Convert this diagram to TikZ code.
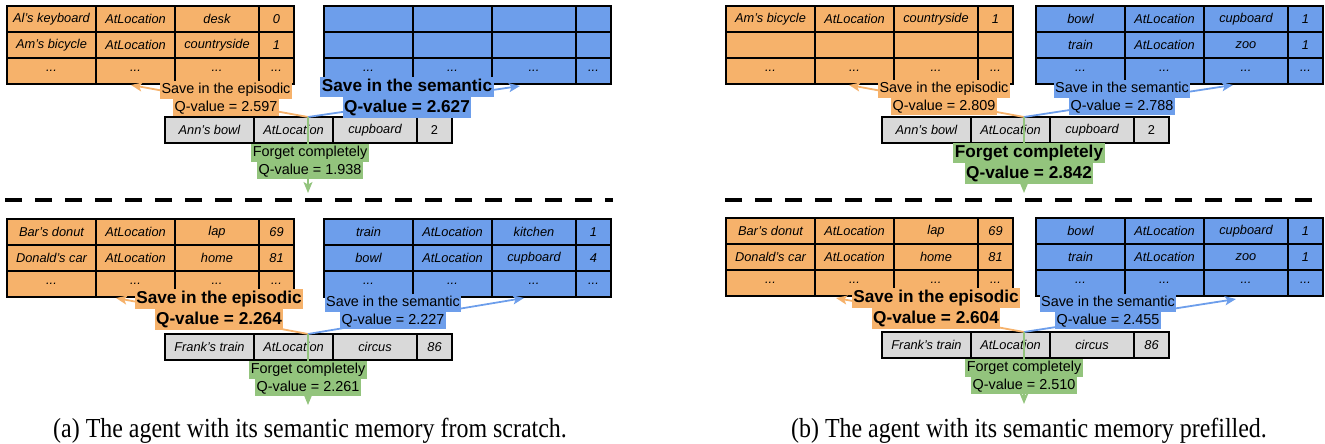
\documentclass[tikz,border=0pt]{standalone}
\usepackage{fontspec}
\setmainfont{Liberation Serif}
\newfontfamily\arialfont{Liberation Sans}
\newfontfamily\capfont[FakeStretch=0.87]{Liberation Serif}
\usetikzlibrary{positioning,arrows.meta}
\definecolor{epi}{HTML}{F6B26B}
\definecolor{sem}{HTML}{6D9EEB}
\definecolor{fgt}{HTML}{93C47D}
\definecolor{obs}{HTML}{D9D9D9}

\begin{document}
\begin{tikzpicture}[x=1pt,y=-1pt,
  cell/.style={draw, line width=1.6pt, outer sep=0pt, inner sep=0pt, minimum height=26pt,
    font=\arialfont\itshape\fontsize{12.8}{14}\selectfont},
  wa/.style={minimum width=89pt}, wb/.style={minimum width=79pt},
  wc/.style={minimum width=84pt}, wd/.style={minimum width=35pt},
  tblframe/.style={line width=2.6pt},
  lab/.style={inner xsep=1.5pt, inner ysep=0pt, outer sep=0pt, minimum height=17.5pt,
    text height=10.5pt, text depth=3pt, font=\arialfont\fontsize{14.4}{17}\selectfont},
  blab/.style={lab, minimum height=20.5pt, text height=12.5pt, text depth=3.5pt,
    font=\arialfont\bfseries\fontsize{17.2}{20}\selectfont},
  mv/.style={line width=1.8pt, -{Stealth[length=11pt,width=9pt,inset=2.5pt]}},
  sepline/.style={line width=4pt, dash pattern=on 17pt off 13pt},
  captxt/.style={anchor=base, inner sep=0pt, font=\capfont\fontsize{27.5}{30}\selectfont}]
\useasboundingbox (0,0) rectangle (1325,444);

\def\memrow#1#2#3#4#5#6#7{%
  \node[cell,wa,fill=#3,anchor=north west] (#1a) at (#2) {#4};
  \node[cell,wb,fill=#3,right=0pt of #1a] (#1b) {#5};
  \node[cell,wc,fill=#3,right=0pt of #1b] (#1c) {#6};
  \node[cell,wd,fill=#3,right=0pt of #1c] (#1d) {#7};
}

%%% (a) top
\memrow{atE1}{7,6}{epi}{Al’s keyboard}{AtLocation}{desk}{0}
\memrow{atE2}{atE1a.south west}{epi}{Am’s bicycle}{AtLocation}{countryside}{1}
\memrow{atE3}{atE2a.south west}{epi}{...}{...}{...}{...}
\draw[tblframe] (atE1a.north west) rectangle (atE3d.south east);
\memrow{atS1}{324,6}{sem}{}{}{}{}
\memrow{atS2}{atS1a.south west}{sem}{}{}{}{}
\memrow{atS3}{atS2a.south west}{sem}{...}{...}{...}{...}
\draw[tblframe] (atS1a.north west) rectangle (atS3d.south east);
\memrow{atR}{165,117}{obs}{Ann’s bowl}{AtLocation}{cupboard}{\upshape 2}
\draw[tblframe] (atRa.north west) rectangle (atRd.south east);

\coordinate (atJ) at (308,117);
\coordinate (atEt) at (131,85);
\coordinate (atSt) at (520,86);
\coordinate (atFt) at (308,193);
\draw[mv,epi] (atJ) -- (atEt);
\draw[mv,sem] (atJ) -- (atSt);
\draw[mv,fgt,line width=1.3pt] (atJ) -- (atFt);

\node[lab,fill=epi] (atL1) at (226,90) {Save in the episodic};
\node[lab,fill=epi,below=0pt of atL1] (atL2) {Q-value = 2.597};
\node[blab,fill=sem] (atM1) at (407,87) {Save in the semantic};
\node[blab,fill=sem,below=0pt of atM1] (atM2) {Q-value = 2.627};
\node[lab,fill=fgt] (atN1) at (310,153) {Forget completely};
\node[lab,fill=fgt,below=0pt of atN1] (atN2) {Q-value = 1.938};

\coordinate (sepA1) at (5,200);
\coordinate (sepA2) at (613,200);
\draw[sepline] (sepA1) -- (sepA2);

%%% (a) bottom
\memrow{abE1}{7,219}{epi}{Bar’s donut}{AtLocation}{lap}{69}
\memrow{abE2}{abE1a.south west}{epi}{Donald’s car}{AtLocation}{home}{81}
\memrow{abE3}{abE2a.south west}{epi}{...}{...}{...}{...}
\draw[tblframe] (abE1a.north west) rectangle (abE3d.south east);
\memrow{abS1}{324,219}{sem}{train}{AtLocation}{kitchen}{1}
\memrow{abS2}{abS1a.south west}{sem}{bowl}{AtLocation}{cupboard}{4}
\memrow{abS3}{abS2a.south west}{sem}{...}{...}{...}{...}
\draw[tblframe] (abS1a.north west) rectangle (abS3d.south east);
\memrow{abR}{165,334}{obs}{Frank’s train}{AtLocation}{circus}{86}
\draw[tblframe] (abRa.north west) rectangle (abRd.south east);

\coordinate (abJ) at (308,334);
\coordinate (abEt) at (116,298);
\coordinate (abSt) at (524,298);
\coordinate (abFt) at (308,405);
\draw[mv,epi] (abJ) -- (abEt);
\draw[mv,sem] (abJ) -- (abSt);
\draw[mv,fgt,line width=1.3pt] (abJ) -- (abFt);

\node[blab,fill=epi] (abL1) at (219,299) {Save in the episodic};
\node[blab,fill=epi,below=0pt of abL1] (abL2) {Q-value = 2.264};
\node[lab,fill=sem] (abM1) at (393,303) {Save in the semantic};
\node[lab,fill=sem,below=0pt of abM1] (abM2) {Q-value = 2.227};
\node[lab,fill=fgt] (abN1) at (308,370) {Forget completely};
\node[lab,fill=fgt,below=0pt of abN1] (abN2) {Q-value = 2.261};

%%% (b) top
\memrow{btE1}{726,6}{epi}{Am’s bicycle}{AtLocation}{countryside}{1}
\memrow{btE2}{btE1a.south west}{epi}{}{}{}{}
\memrow{btE3}{btE2a.south west}{epi}{...}{...}{...}{...}
\draw[tblframe] (btE1a.north west) rectangle (btE3d.south east);
\memrow{btS1}{1036,6}{sem}{bowl}{AtLocation}{cupboard}{1}
\memrow{btS2}{btS1a.south west}{sem}{train}{AtLocation}{zoo}{1}
\memrow{btS3}{btS2a.south west}{sem}{...}{...}{...}{...}
\draw[tblframe] (btS1a.north west) rectangle (btS3d.south east);
\memrow{btR}{882,117}{obs}{Ann’s bowl}{AtLocation}{cupboard}{\upshape 2}
\draw[tblframe] (btRa.north west) rectangle (btRd.south east);

\coordinate (btJ) at (1024,117);
\coordinate (btEt) at (849,85);
\coordinate (btSt) at (1233,85);
\coordinate (btFt) at (1024,193);
\draw[mv,epi] (btJ) -- (btEt);
\draw[mv,sem] (btJ) -- (btSt);
\draw[mv,fgt,line width=1.3pt] (btJ) -- (btFt);

\node[lab,fill=epi] (btL1) at (944,89) {Save in the episodic};
\node[lab,fill=epi,below=0pt of btL1] (btL2) {Q-value = 2.809};
\node[lab,fill=sem] (btM1) at (1122,89) {Save in the semantic};
\node[lab,fill=sem,below=0pt of btM1] (btM2) {Q-value = 2.788};
\node[blab,fill=fgt] (btN1) at (1029,153) {Forget completely};
\node[blab,fill=fgt,below=0pt of btN1] (btN2) {Q-value = 2.842};

\coordinate (sepB1) at (725,200);
\coordinate (sepB2) at (1325,200);
\draw[sepline] (sepB1) -- (sepB2);

%%% (b) bottom
\memrow{bbE1}{726,218}{epi}{Bar’s donut}{AtLocation}{lap}{69}
\memrow{bbE2}{bbE1a.south west}{epi}{Donald’s car}{AtLocation}{home}{81}
\memrow{bbE3}{bbE2a.south west}{epi}{...}{...}{...}{...}
\draw[tblframe] (bbE1a.north west) rectangle (bbE3d.south east);
\memrow{bbS1}{1036,218}{sem}{bowl}{AtLocation}{cupboard}{1}
\memrow{bbS2}{bbS1a.south west}{sem}{train}{AtLocation}{zoo}{1}
\memrow{bbS3}{bbS2a.south west}{sem}{...}{...}{...}{...}
\draw[tblframe] (bbS1a.north west) rectangle (bbS3d.south east);
\memrow{bbR}{882,332}{obs}{Frank’s train}{AtLocation}{circus}{86}
\draw[tblframe] (bbRa.north west) rectangle (bbRd.south east);

\coordinate (bbJ) at (1024,332);
\coordinate (bbEt) at (836,298);
\coordinate (bbSt) at (1236,299);
\coordinate (bbFt) at (1024,404);
\draw[mv,epi] (bbJ) -- (bbEt);
\draw[mv,sem] (bbJ) -- (bbSt);
\draw[mv,fgt,line width=1.3pt] (bbJ) -- (bbFt);

\node[blab,fill=epi] (bbL1) at (936,298) {Save in the episodic};
\node[blab,fill=epi,below=0pt of bbL1] (bbL2) {Q-value = 2.604};
\node[lab,fill=sem] (bbM1) at (1108,303) {Save in the semantic};
\node[lab,fill=sem,below=0pt of bbM1] (bbM2) {Q-value = 2.455};
\node[lab,fill=fgt] (bbN1) at (1024,368) {Forget completely};
\node[lab,fill=fgt,below=0pt of bbN1] (bbN2) {Q-value = 2.510};

\node[captxt] (capA) at (310,437) {(a) The agent with its semantic memory from scratch.};
\node[captxt] (capB) at (1029,437) {(b) The agent with its semantic memory prefilled.};
\end{tikzpicture}
\end{document}
